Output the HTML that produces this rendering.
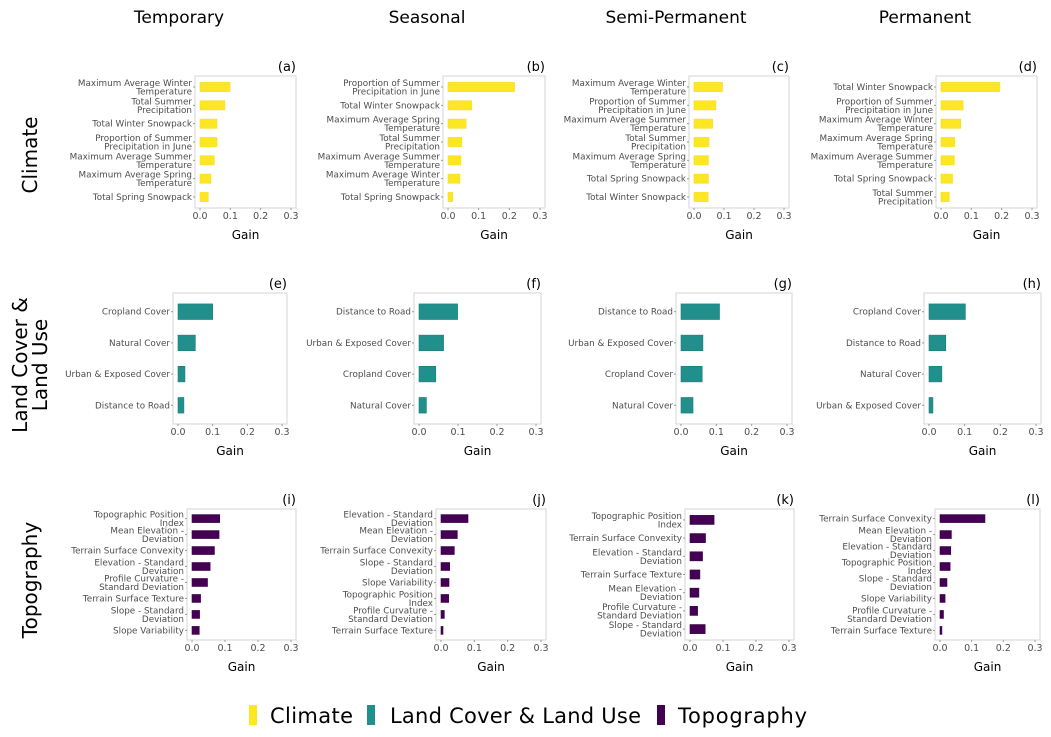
<!DOCTYPE html>
<html><head><meta charset="utf-8">
<style>
html,body{margin:0;padding:0;background:#fff;}
svg{display:block;font-family:"DejaVu Sans","Liberation Sans",sans-serif;}
</style></head>
<body>
<svg id="chart" width="1051" height="737" viewBox="0 0 1051 737" xmlns="http://www.w3.org/2000/svg">
<g font-size="17" fill="#000" text-anchor="middle">
<text x="179" y="23">Temporary</text>
<text x="427" y="23">Seasonal</text>
<text x="676" y="23">Semi-Permanent</text>
<text x="925" y="23">Permanent</text>
</g>
<g font-size="20" fill="#000" text-anchor="middle">
<text transform="translate(37,155) rotate(-90)">Climate</text>
<text transform="translate(27,365) rotate(-90)">Land Cover &amp;</text>
<text transform="translate(47,365) rotate(-90)">Land Use</text>
<text transform="translate(37,580) rotate(-90)">Topography</text>
</g>
<g font-size="21" fill="#000">
<rect x="249" y="705" width="8" height="20" fill="#fde725"/>
<text x="270" y="723" textLength="83">Climate</text>
<rect x="367" y="705" width="8" height="20" fill="#21908c"/>
<text x="390" y="723" textLength="251">Land Cover &amp; Land Use</text>
<rect x="657" y="705" width="8" height="20" fill="#440154"/>
<text x="678" y="723" textLength="129">Topography</text>
</g>
</svg>
<script>
const panelIds = ["a","b","c","d","e","f","g","h","i","j","k","l"];
const catA = ["Maximum Average Winter|Temperature","Total Summer|Precipitation","Total Winter Snowpack","Proportion of Summer|Precipitation in June","Maximum Average Summer|Temperature","Maximum Average Spring|Temperature","Total Spring Snowpack"];
const valA = [0.099,0.082,0.056,0.056,0.047,0.036,0.027];
const catB = ["Proportion of Summer|Precipitation in June","Total Winter Snowpack","Maximum Average Spring|Temperature","Total Summer|Precipitation","Maximum Average Summer|Temperature","Maximum Average Winter|Temperature","Total Spring Snowpack"];
const valB = [0.217,0.077,0.059,0.045,0.042,0.039,0.015];
const catC = ["Maximum Average Winter|Temperature","Proportion of Summer|Precipitation in June","Maximum Average Summer|Temperature","Total Summer|Precipitation","Maximum Average Spring|Temperature","Total Spring Snowpack","Total Winter Snowpack"];
const valC = [0.095,0.073,0.062,0.05,0.048,0.048,0.047];
const catD = ["Total Winter Snowpack","Proportion of Summer|Precipitation in June","Maximum Average Winter|Temperature","Maximum Average Spring|Temperature","Maximum Average Summer|Temperature","Total Spring Snowpack","Total Summer|Precipitation"];
const valD = [0.194,0.073,0.065,0.045,0.044,0.038,0.027];
const catE = ["Cropland Cover","Natural Cover","Urban & Exposed Cover","Distance to Road"];
const valE = [0.100,0.050,0.020,0.017];
const catF = ["Distance to Road","Urban & Exposed Cover","Cropland Cover","Natural Cover"];
const valF = [0.099,0.063,0.043,0.019];
const catG = ["Distance to Road","Urban & Exposed Cover","Cropland Cover","Natural Cover"];
const valG = [0.109,0.062,0.060,0.034];
const catH = ["Cropland Cover","Distance to Road","Natural Cover","Urban & Exposed Cover"];
const valH = [0.102,0.047,0.036,0.011];
const catI = ["Topographic Position|Index","Mean Elevation -|Deviation","Terrain Surface Convexity","Elevation - Standard|Deviation","Profile Curvature -|Standard Deviation","Terrain Surface Texture","Slope - Standard|Deviation","Slope Variability"];
const valI = [0.084,0.082,0.068,0.055,0.047,0.026,0.023,0.022];
const catJ = ["Elevation - Standard|Deviation","Mean Elevation -|Deviation","Terrain Surface Convexity","Slope - Standard|Deviation","Slope Variability","Topographic Position|Index","Profile Curvature -|Standard Deviation","Terrain Surface Texture"];
const valJ = [0.081,0.049,0.040,0.026,0.024,0.023,0.010,0.006];
const catK = ["Topographic Position|Index","Terrain Surface Convexity","Elevation - Standard|Deviation","Terrain Surface Texture","Mean Elevation -|Deviation","Profile Curvature -|Standard Deviation","Slope - Standard|Deviation"];
const valK = [0.073,0.047,0.038,0.030,0.027,0.023,0.046];
const catL = ["Terrain Surface Convexity","Mean Elevation -|Deviation","Elevation - Standard|Deviation","Topographic Position|Index","Slope - Standard|Deviation","Slope Variability","Profile Curvature -|Standard Deviation","Terrain Surface Texture"];
const valL = [0.142,0.036,0.034,0.032,0.022,0.016,0.011,0.006];
const tickValues = [0,0.1,0.2,0.3];
const tickLabels = ["0.0","0.1","0.2","0.3"];

const cats = [catA,catB,catC,catD,catE,catF,catG,catH,catI,catJ,catK,catL];
const vals = [valA,valB,valC,valD,valE,valF,valG,valH,valI,valJ,valK,valL];
// layout (pixel geometry, not data)
const boxL = [195,443,689,936, 173,414,676,924, 187,436,685,935];
const boxR = [296,545,789,1037, 287,541,792,1041, 296,546,794,1040];
const rowTop = [76,293,509], rowBot = [208,424,640];
const rowColor = ["#fde725","#21908c","#440154"];
const rowStroke = ["#f5dd1c","#1b7d79","#3a0148"];

const NS = "http://www.w3.org/2000/svg";
const svg = document.getElementById("chart");
function mk(tag, attrs, parent){const e=document.createElementNS(NS,tag);for(const k in attrs)e.setAttribute(k,attrs[k]);parent.appendChild(e);return e;}

for(let p=0;p<12;p++){
  const row=Math.floor(p/4);
  const L=boxL[p],R=boxR[p],T=rowTop[row],B=rowBot[row];
  const g=mk("g",{},svg);
  
  
  const x0=L+5,x3=R-5;
  const xs=v=>x0+(v/0.3)*(x3-x0);
  const n=cats[p].length;
  const unit=(B-T)/(n-1+1.2);
  const ys=i=>T+(0.6+i)*unit;
  const box=mk("rect",{x:L,y:T,width:R-L,height:B-T,fill:"#fff",stroke:"#d6d6d6","stroke-width":1},g);
  
  
  const pl=mk("text",{x:R,y:T-5,"text-anchor":"end","font-size":13,fill:"#000"},g);
  pl.textContent="("+panelIds[p]+")";
  
  
  for(let t=0;t<tickValues.length;t++){
    const tx=xs(tickValues[t]);
    mk("line",{x1:tx,x2:tx,y1:B,y2:B+2,stroke:"#999"},g);
    const tl=mk("text",{x:tx,y:B+11,"text-anchor":"middle","font-size":9.5,fill:"#4d4d4d"},g);
    tl.textContent=tickLabels[t];
    
    
  }
  const gt=mk("text",{x:(L+R)/2,y:B+31,"text-anchor":"middle","font-size":12,fill:"#000"},g);
  gt.textContent="Gain";
  
  
  const bh=unit*0.5;
  for(let i=0;i<n;i++){
    const cy=ys(i);
    const bar=mk("rect",{x:xs(0),y:cy-bh/2,width:Math.max(0,xs(vals[p][i])-xs(0)),height:bh,fill:rowColor[row],stroke:rowStroke[row],"stroke-width":0.6},g);
    
    
    mk("line",{x1:L-2,x2:L,y1:cy,y2:cy,stroke:"#999"},g);
    const lines=cats[p][i].split("|");
    const lab=mk("text",{"text-anchor":"end","font-size":8.8,fill:"#4d4d4d"},g);
    
    
    const off=lines.length===1?3:-1;
    lines.forEach((ln,k)=>{const ts=mk("tspan",{x:L-3,y:cy+off+k*8.5},lab);ts.textContent=ln;});
  }
}
</script>
</body></html>
